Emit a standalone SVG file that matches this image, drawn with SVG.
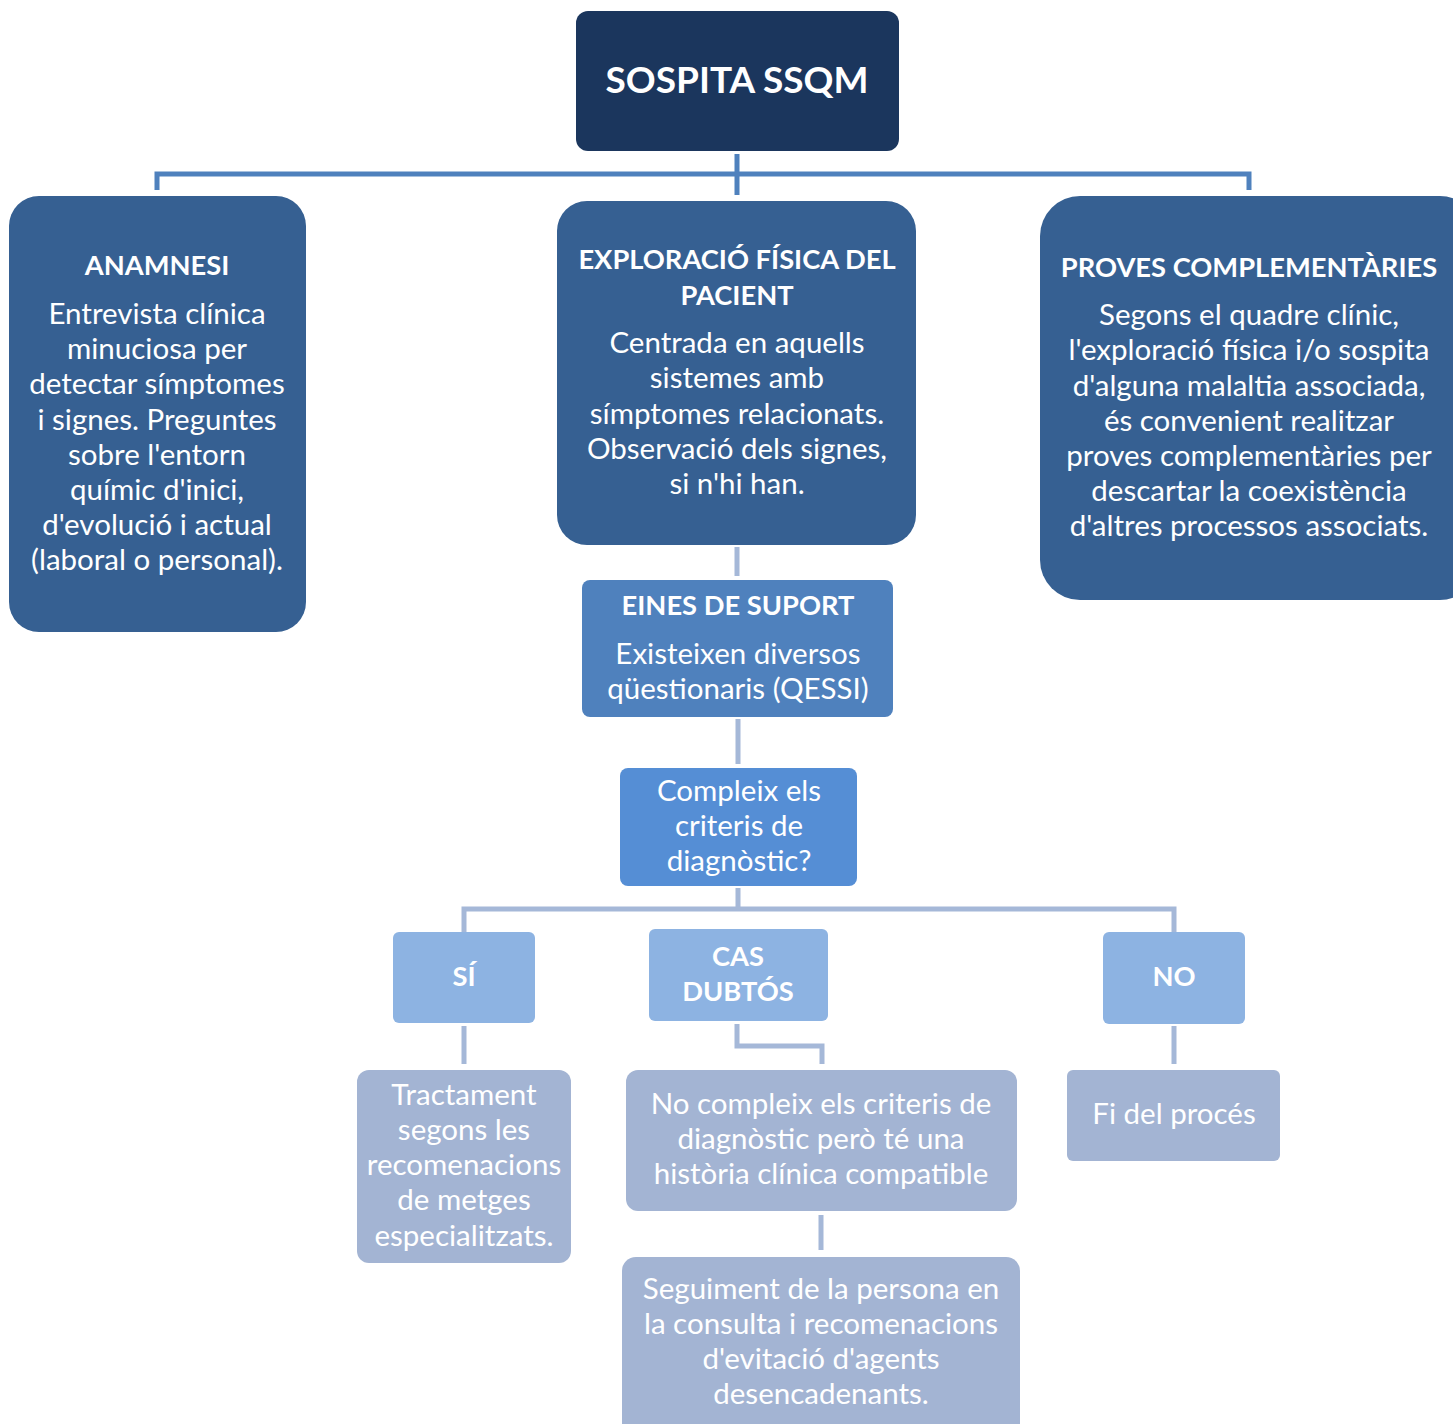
<svg xmlns="http://www.w3.org/2000/svg" width="1453" height="1424" viewBox="0 0 1453 1424">
<style>
text{font-family:Lato,"Open Sans","Liberation Sans",sans-serif;fill:#fff;text-anchor:middle}
.t{font-weight:bold;font-size:27.3px}
.b{font-size:29.5px}
.c1{stroke:#4f81bd;stroke-width:5;fill:none}
.c2{stroke:#a5b8d8;stroke-width:5;fill:none}
</style>
<rect width="1453" height="1424" fill="#fff"/>
<g id="connectors">
<path class="c1" d="M737 154V195M157 190V174H1249V190"/>
<path class="c2" d="M737 547V576M738 719V764M738 888V909M464 932V909H1174V932M464 1026V1064M737 1024V1046H822V1064M1174 1026V1064M821 1215V1250"/>
</g>
<g id="sospita"><rect x="576" y="11" width="323" height="140" rx="12" fill="#1b365d"/><text x="737" y="93" style="font-weight:bold;font-size:37px">SOSPITA SSQM</text></g>
<g id="anamnesi"><rect x="9" y="196" width="297" height="436" rx="30" fill="#366092"/>
<text x="157" y="275" class="t">ANAMNESI</text>
<text class="b" x="157"><tspan x="157" y="324">Entrevista clínica</tspan><tspan x="157" y="359">minuciosa per</tspan><tspan x="157" y="394">detectar símptomes</tspan><tspan x="157" y="430">i signes. Preguntes</tspan><tspan x="157" y="465">sobre l'entorn</tspan><tspan x="157" y="500">químic d'inici,</tspan><tspan x="157" y="535">d'evolució i actual</tspan><tspan x="157" y="570">(laboral o personal).</tspan></text></g>
<g id="exploracio"><rect x="557" y="201" width="359" height="344" rx="30" fill="#366092"/>
<text class="t"><tspan x="737" y="269">EXPLORACIÓ FÍSICA DEL</tspan><tspan x="737" y="305">PACIENT</tspan></text>
<text class="b"><tspan x="737" y="353">Centrada en aquells</tspan><tspan x="737" y="388">sistemes amb</tspan><tspan x="737" y="424">símptomes relacionats.</tspan><tspan x="737" y="459">Observació dels signes,</tspan><tspan x="737" y="494">si n'hi han.</tspan></text></g>
<g id="proves"><rect x="1040" y="196" width="440" height="404" rx="40" fill="#366092"/>
<text x="1249" y="277" class="t">PROVES COMPLEMENTÀRIES</text>
<text class="b"><tspan x="1249" y="325">Segons el quadre clínic,</tspan><tspan x="1249" y="360">l'exploració física i/o sospita</tspan><tspan x="1249" y="396">d'alguna malaltia associada,</tspan><tspan x="1249" y="431">és convenient realitzar</tspan><tspan x="1249" y="466">proves complementàries per</tspan><tspan x="1249" y="501">descartar la coexistència</tspan><tspan x="1249" y="536">d'altres processos associats.</tspan></text></g>
<g id="eines"><rect x="582" y="580" width="311" height="137" rx="8" fill="#4f81bd"/>
<text x="738" y="615" class="t">EINES DE SUPORT</text>
<text class="b"><tspan x="738" y="664">Existeixen diversos</tspan><tspan x="738" y="699">qüestionaris (QESSI)</tspan></text></g>
<g id="compleix"><rect x="620" y="768" width="237" height="118" rx="8" fill="#558ed5"/>
<text class="b"><tspan x="739" y="801">Compleix els</tspan><tspan x="739" y="836">criteris de</tspan><tspan x="739" y="871">diagnòstic?</tspan></text></g>
<g id="si"><rect x="393" y="932" width="142" height="91" rx="6" fill="#8db3e2"/><text x="464" y="986" class="t">SÍ</text></g>
<g id="dubtos"><rect x="649" y="929" width="179" height="92" rx="6" fill="#8db3e2"/><text class="t"><tspan x="738" y="966">CAS</tspan><tspan x="738" y="1001">DUBTÓS</tspan></text></g>
<g id="no"><rect x="1103" y="932" width="142" height="92" rx="6" fill="#8db3e2"/><text x="1174" y="986" class="t">NO</text></g>
<g id="tractament"><rect x="357" y="1070" width="214" height="193" rx="12" fill="#a3b4d3"/>
<text class="b"><tspan x="464" y="1105">Tractament</tspan><tspan x="464" y="1140">segons les</tspan><tspan x="464" y="1175">recomenacions</tspan><tspan x="464" y="1210">de metges</tspan><tspan x="464" y="1246">especialitzats.</tspan></text></g>
<g id="nocompleix"><rect x="626" y="1070" width="391" height="141" rx="12" fill="#a3b4d3"/>
<text class="b"><tspan x="821" y="1114">No compleix els criteris de</tspan><tspan x="821" y="1149">diagnòstic però té una</tspan><tspan x="821" y="1184">història clínica compatible</tspan></text></g>
<g id="fi"><rect x="1067" y="1070" width="213" height="91" rx="6" fill="#a3b4d3"/><text x="1174" y="1124" class="b">Fi del procés</text></g>
<g id="seguiment"><rect x="622" y="1257" width="398" height="190" rx="14" fill="#a3b4d3"/>
<text class="b"><tspan x="821" y="1299">Seguiment de la persona en</tspan><tspan x="821" y="1334">la consulta i recomenacions</tspan><tspan x="821" y="1369">d'evitació d'agents</tspan><tspan x="821" y="1404">desencadenants.</tspan></text></g>
</svg>
